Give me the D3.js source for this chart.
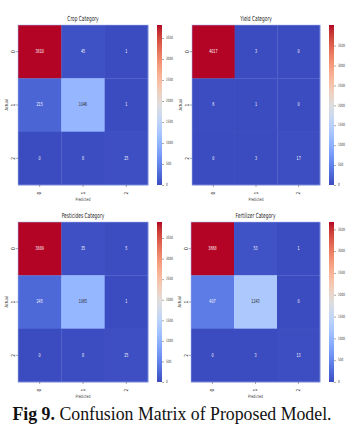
<!DOCTYPE html>
<html><head><meta charset="utf-8">
<script src="https://cdn.jsdelivr.net/npm/d3@7"></script>
<style>
html,body{margin:0;padding:0;background:#fff;}
svg{display:block;}
</style></head>
<body>
<svg id="chart" width="359" height="444"></svg>
<script>
const categories = ["0", "1", "2"];
const titles = ["Crop Category", "Yield Category", "Pesticides Category", "Fertilizer Category"];
const cropValues = [[3810, 45, 1], [215, 1046, 1], [0, 8, 25]];
const yieldValues = [[4017, 3, 0], [6, 1, 0], [0, 3, 17]];
const pesticidesValues = [[3889, 35, 5], [245, 1065, 1], [0, 8, 25]];
const fertilizerValues = [[3668, 53, 1], [407, 1243, 0], [0, 3, 13]];
const colorbarTicks = [0, 500, 1000, 1500, 2000, 2500, 3000, 3500];
const xLabel = "Predicted";
const yLabel = "Actual";
const caption = ["Fig 9.", " Confusion Matrix of Proposed Model."];

// matplotlib "coolwarm" (Moreland) anchors
const coolwarm = [
[59,76,192],[68,90,204],[77,104,215],[87,117,225],[98,130,234],[108,142,241],[119,154,247],[130,165,251],
[141,176,254],[152,185,255],[163,194,255],[174,201,253],[184,208,249],[194,213,244],[204,217,238],[213,219,230],
[221,221,221],[229,216,209],[236,211,197],[241,204,185],[245,196,173],[247,187,160],[247,177,148],[247,166,135],
[244,154,123],[241,141,111],[236,127,99],[229,112,88],[222,96,77],[213,80,66],[203,62,56],[192,40,47],[180,4,38]
].map(c => d3.rgb(c[0], c[1], c[2]).formatHex());
const coolInterp = d3.piecewise(d3.interpolateRgb, coolwarm);

const svg = d3.select("#chart");
const defs = svg.append("defs");
const grad = defs.append("linearGradient").attr("id", "cw").attr("x1", 0).attr("y1", 1).attr("x2", 0).attr("y2", 0);
coolwarm.forEach((c, i) => grad.append("stop").attr("offset", i / (coolwarm.length - 1)).attr("stop-color", c));

const panels = [
  {data: cropValues, title: titles[0], x0: 18, x1: 148, y0: 25, y1: 185, cb: 157},
  {data: yieldValues, title: titles[1], x0: 192, x1: 320, y0: 25, y1: 185, cb: 329},
  {data: pesticidesValues, title: titles[2], x0: 18, x1: 148, y0: 222, y1: 382, cb: 157},
  {data: fertilizerValues, title: titles[3], x0: 191, x1: 320, y0: 222, y1: 382, cb: 329}
];

function sText(g, x, y, txt, size, opts = {}) {
  return g.append("text")
    .attr("transform", `translate(${x},${y}) ${opts.rot ? "rotate(" + opts.rot + ")" : ""} scale(${opts.sx || 0.6},1)`)
    .attr("text-anchor", opts.anchor || "middle")
    .attr("dominant-baseline", opts.baseline || "middle")
    .attr("font-family", "DejaVu Sans, sans-serif")
    .attr("font-size", size)
    .attr("fill", opts.fill || "#333")
    .text(txt);
}

panels.forEach(p => {
  const g = svg.append("g");
  const flat = p.data.flat();
  const vmax = d3.max(flat), vmin = d3.min(flat);
  const color = d3.scaleSequential(coolInterp).domain([vmin, vmax]);
  const x = d3.scaleBand().domain(categories).range([p.x0, p.x1]);
  const y = d3.scaleBand().domain(categories).range([p.y0, p.y1]);

  const cells = [];
  p.data.forEach((row, i) => row.forEach((v, j) => cells.push({r: categories[i], c: categories[j], v})));

  g.selectAll("rect.cell").data(cells).join("rect")
    .attr("class", "cell")
    .attr("x", d => x(d.c)).attr("y", d => y(d.r))
    .attr("width", x.bandwidth() + 0.3).attr("height", y.bandwidth() + 0.3)
    .attr("fill", d => color(d.v));

  g.append("rect").attr("x", p.x0).attr("y", p.y0).attr("width", p.x1 - p.x0).attr("height", p.y1 - p.y0)
    .attr("fill", "none").attr("stroke", "#aab8f0").attr("stroke-width", 0.8).attr("opacity", 0.7);

  cells.forEach(d => {
    const t = (d.v - vmin) / (vmax - vmin);
    sText(g, x(d.c) + x.bandwidth() / 2, y(d.r) + y.bandwidth() / 2, d.v, 5.5,
      {fill: (t > 0.2 && t < 0.8) ? "#262626" : "#ffffff"});
  });

  const xa = g.append("g").attr("transform", `translate(0,${p.y1})`)
    .call(d3.axisBottom(x).tickSize(2).tickSizeOuter(0));
  const ya = g.append("g").attr("transform", `translate(${p.x0},0)`)
    .call(d3.axisLeft(y).tickSize(2).tickSizeOuter(0));
  [xa, ya].forEach(a => {
    a.select(".domain").remove();
    a.selectAll("line").attr("stroke", "#555").attr("stroke-width", 0.5);
    a.selectAll("text").remove();
  });
  categories.forEach(c => {
    sText(g, x(c) + x.bandwidth() / 2, p.y1 + 8, c, 5.5, {rot: -90, sx: 0.8});
    sText(g, p.x0 - 5, y(c) + y.bandwidth() / 2, c, 5.5, {rot: -90, sx: 0.8});
  });
  sText(g, (p.x0 + p.x1) / 2, p.y1 + 15, xLabel, 4.5, {sx: 0.7});
  sText(g, p.x0 - 11, (p.y0 + p.y1) / 2, yLabel, 4.5, {rot: -90, sx: 0.8});
  sText(g, (p.x0 + p.x1) / 2, p.y0 - 6, p.title, 7, {sx: 0.62, fill: "#222"});

  const cbW = 5;
  g.append("rect").attr("x", p.cb).attr("y", p.y0).attr("width", cbW).attr("height", p.y1 - p.y0)
    .attr("fill", "url(#cw)");
  const cy = d3.scaleLinear().domain([vmin, vmax]).range([p.y1, p.y0]);
  const ca = g.append("g").attr("transform", `translate(${p.cb + cbW},0)`)
    .call(d3.axisRight(cy).tickValues(colorbarTicks).tickSize(2));
  ca.select(".domain").remove();
  ca.selectAll("line").attr("stroke", "#555").attr("stroke-width", 0.5);
  ca.selectAll("text").remove();
  colorbarTicks.forEach(v => sText(g, p.cb + cbW + 4, cy(v), v, 4.5, {anchor: "start", sx: 0.6}));
});

const cap = svg.append("text").attr("x", 172).attr("y", 420).attr("text-anchor", "middle")
  .attr("font-family", "Liberation Serif, Times New Roman, serif").attr("font-size", 17.8).attr("fill", "#111");
cap.append("tspan").attr("font-weight", "bold").text(caption[0]);
cap.append("tspan").text(caption[1]);
</script>
</body></html>
